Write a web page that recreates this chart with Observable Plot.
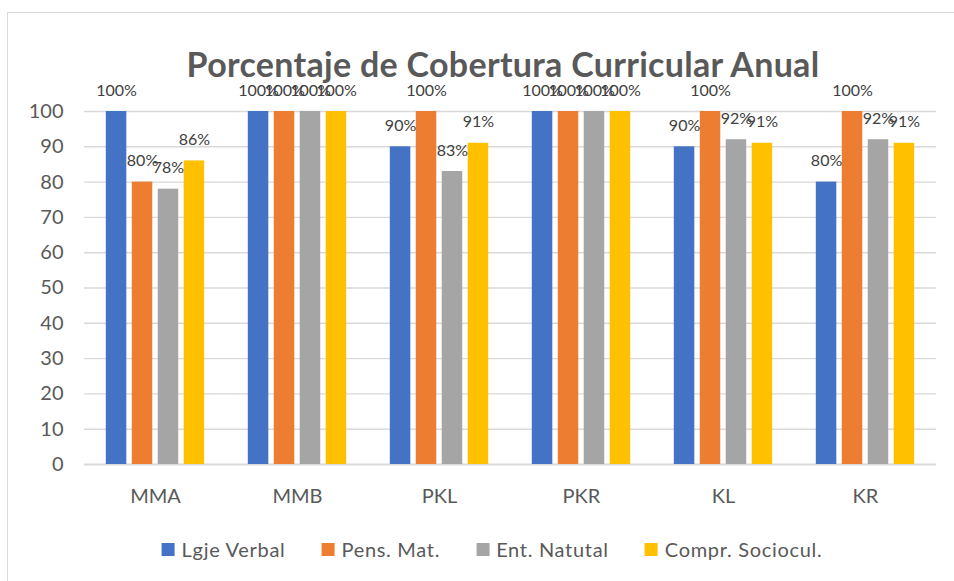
<!DOCTYPE html>
<html>
<head>
<meta charset="utf-8">
<script src="https://cdn.jsdelivr.net/npm/d3@7"></script>
<script src="https://cdn.jsdelivr.net/npm/@observablehq/plot@0.6"></script>
<style>
  html, body { margin: 0; padding: 0; background: #fff; }
  body { width: 954px; height: 581px; overflow: hidden; position: relative; font-family: Lato, "Open Sans", sans-serif; }
  #frame { position: absolute; left: 7px; top: 12px; width: 1000px; height: 1000px; border: 1.3px solid #d9d9d9; box-sizing: border-box; }
  #chart { position: absolute; left: 0; top: 0; }
  #title { position: absolute; left: 503px; top: 47px; transform: translateX(-50%); white-space: nowrap;
           font: bold 34px/34px Lato, sans-serif; letter-spacing: 0.3px; color: #595959; z-index: 2; }
  #legend { position: absolute; left: 492px; top: 538px; transform: translateX(-50%); display: flex; gap: 36px;
            white-space: nowrap; font: 20px/22px Lato, sans-serif; letter-spacing: 0.7px; color: #595959; }
  #legend .item { display: flex; align-items: center; gap: 7px; }
  #legend .sw { width: 13px; height: 13px; display: inline-block; }
</style>
</head>
<body>
<div id="frame"></div>
<div id="chart"></div>
<div id="title">Porcentaje de Cobertura Curricular Anual</div>
<div id="legend"></div>
<script>
const categories = ["MMA", "MMB", "PKL", "PKR", "KL", "KR"];
const series = ["Lgje Verbal", "Pens. Mat.", "Ent. Natutal", "Compr. Sociocul."];
const lgjeVerbal    = [100, 100, 90, 100, 90, 80];
const pensMat       = [80, 100, 100, 100, 100, 100];
const entNatutal    = [78, 100, 83, 100, 92, 92];
const comprSociocul = [86, 100, 91, 100, 91, 91];
const yTicks = [0, 10, 20, 30, 40, 50, 60, 70, 80, 90, 100];
const colors = ["#4472C4", "#ED7D31", "#A5A5A5", "#FFC000"];

const seriesValues = [lgjeVerbal, pensMat, entNatutal, comprSociocul];
const data = [];
categories.forEach((c, i) => {
  series.forEach((s, j) => data.push({cat: c, series: s, value: seriesValues[j][i]}));
});

const chart = Plot.plot({
  width: 954,
  height: 520,
  marginLeft: 83,
  marginRight: 17,
  marginTop: 111,
  marginBottom: 56,
  style: {fontFamily: "Lato, sans-serif", fontSize: "20px", color: "#595959", background: "transparent", overflow: "visible"},
  fx: {domain: categories, padding: 0, label: null, axis: "bottom", tickSize: 0, tickPadding: 24},
  x: {domain: series, axis: null, paddingInner: 0.21, paddingOuter: 0.84, round: false},
  y: {domain: [0, 100], ticks: yTicks, tickSize: 0, tickPadding: 21, label: null},
  color: {domain: series, range: colors},
  marks: [
    Plot.ruleY(yTicks.filter(d => d > 0), {stroke: "#d9d9d9", strokeWidth: 1.4}),
    Plot.ruleY([0], {stroke: "#d9d9d9", strokeWidth: 2}),
    Plot.barY(data, {fx: "cat", x: "series", y: "value", fill: "series"}),
    Plot.text(data, {fx: "cat", x: "series", y: "value", text: d => d.value + "%", dy: -21,
                     fill: "#404040", fontSize: 16, lineAnchor: "middle"})
  ]
});
document.getElementById("chart").appendChild(chart);

const legend = document.getElementById("legend");
series.forEach((s, i) => {
  const item = document.createElement("span");
  item.className = "item";
  const sw = document.createElement("span");
  sw.className = "sw";
  sw.style.background = colors[i];
  const t = document.createElement("span");
  t.textContent = s;
  item.appendChild(sw);
  item.appendChild(t);
  legend.appendChild(item);
});
</script>
</body>
</html>
